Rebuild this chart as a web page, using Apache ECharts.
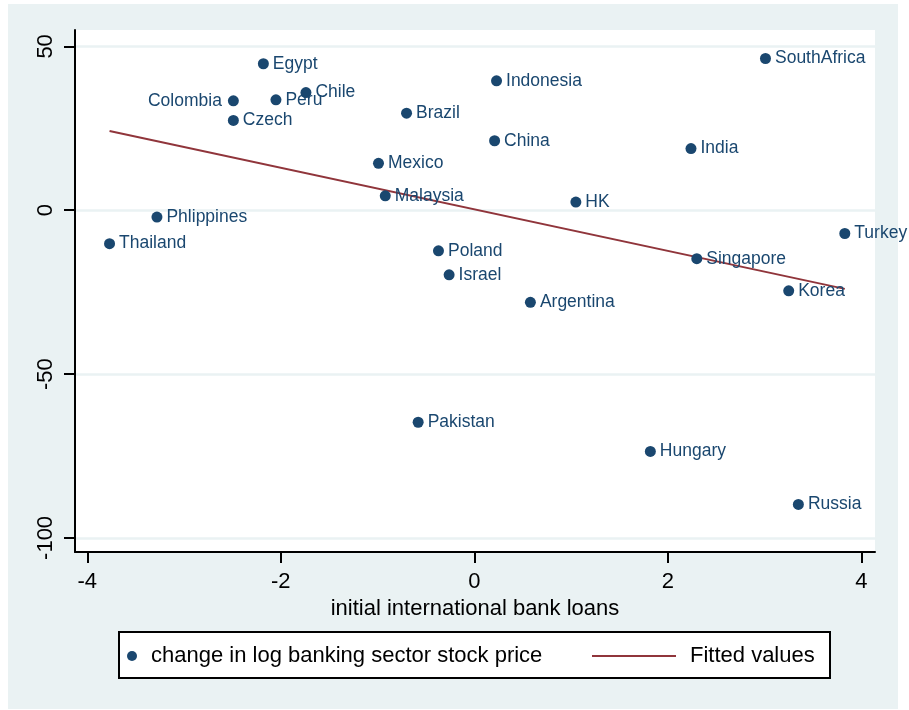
<!DOCTYPE html>
<html>
<head>
<meta charset="utf-8">
<script src="https://cdn.jsdelivr.net/npm/echarts@6/dist/echarts.min.js"></script>
<style>
html,body{margin:0;padding:0;background:#ffffff;width:909px;height:710px;overflow:hidden;}
#chart{position:absolute;left:0;top:0;width:909px;height:710px;}
</style>
</head>
<body>
<div id="chart"></div>
<script>
// ---- data ----
var countries = ['Egypt','Colombia','Peru','Chile','Czech','Indonesia','Brazil','China','Mexico','Malaysia','HK','Phlippines','Thailand','Poland','Israel','Argentina','SouthAfrica','India','Turkey','Singapore','Korea','Pakistan','Hungary','Russia'];
var bankLoans = [-2.18,-2.49,-2.05,-1.74,-2.49,0.23,-0.70,0.21,-0.99,-0.92,1.05,-3.28,-3.77,-0.37,-0.26,0.58,3.01,2.24,3.83,2.30,3.25,-0.58,1.82,3.35];
var stockChange = [44.7,33.4,33.7,35.9,27.4,39.5,29.6,21.2,14.3,4.4,2.5,-2.1,-10.2,-12.4,-19.7,-28.1,46.3,18.8,-7.1,-14.8,-24.6,-64.7,-73.6,-89.8];
var fittedX = [-3.77, 3.83];
var fittedY = [24.2, -24.0];
var xTicks = [-4, -2, 0, 2, 4];
var yTicks = [-100, -50, 0, 50];
var scatterName = 'change in log banking sector stock price';
var fittedName = 'Fitted values';
var leftLabelCountries = ['Colombia'];

// ---- styles ----
var NAVY = '#1a476f';
var MAROON = '#90353b';
var BG = '#eaf2f3';
var FONT = "'Liberation Sans', Arial, Helvetica, sans-serif";

var scatterData = countries.map(function (c, i) {
  var item = { name: c, value: [bankLoans[i], stockChange[i]] };
  if (leftLabelCountries.indexOf(c) >= 0) {
    item.label = { position: 'left', distance: 6 };
  }
  return item;
});
var fittedData = fittedX.map(function (x, i) { return [x, fittedY[i]]; });

var chart = echarts.init(document.getElementById('chart'), null, { renderer: 'canvas' });
chart.setOption({
  backgroundColor: '#ffffff',
  animation: false,
  textStyle: { fontFamily: FONT },
  grid: {
    left: 75, top: 30, width: 800, height: 522,
    show: false,
    containLabel: false
  },
  xAxis: {
    type: 'value',
    min: -4.127, max: 4.142,
    name: 'initial international bank loans',
    nameLocation: 'middle',
    nameGap: 42,
    nameTextStyle: { color: '#000', fontSize: 22, fontFamily: FONT },
    axisLine: { show: true, onZero: false, lineStyle: { color: '#000', width: 2 } },
    axisTick: { show: true, inside: false, length: 11, lineStyle: { color: '#000', width: 2 }, customValues: xTicks },
    axisLabel: { color: '#000', fontSize: 22, margin: 19, fontFamily: FONT, customValues: xTicks, formatter: function (v) { return String(v); } },
    splitLine: { show: false }
  },
  yAxis: {
    type: 'value',
    min: -104.3, max: 55,
    axisLine: { show: true, onZero: false, lineStyle: { color: '#000', width: 2 } },
    axisTick: { show: true, inside: false, length: 11, lineStyle: { color: '#000', width: 2 }, customValues: yTicks },
    axisLabel: { color: '#000', fontSize: 22, margin: 18, rotate: 90, fontFamily: FONT, customValues: yTicks, formatter: function (v) { return String(v); } },
    splitLine: { show: true, lineStyle: { color: BG, width: 2.5 } }
  },
  graphic: [{
    type: 'rect',
    shape: { x: 8, y: 4, width: 890, height: 705 },
    style: { fill: BG },
    z: -10
  }, {
    type: 'rect',
    shape: { x: 75, y: 30, width: 800, height: 522 },
    style: { fill: '#ffffff' },
    z: -9
  }, {
    type: 'rect',
    shape: { x: 119, y: 632, width: 711, height: 46 },
    style: { fill: '#ffffff', stroke: '#000000', lineWidth: 2 },
    z: 1
  }],
  legend: [{
    data: [{ name: scatterName, icon: 'circle' }],
    left: 127, top: 645,
    padding: 0,
    itemWidth: 10, itemHeight: 10,
    textStyle: { color: '#000', fontSize: 22, fontFamily: FONT, padding: [0, 0, 0, 9] }
  }, {
    data: [{ name: fittedName, icon: 'rect', itemStyle: { color: MAROON } }],
    left: 592, top: 645,
    padding: 0,
    itemWidth: 84, itemHeight: 2,
    textStyle: { color: '#000', fontSize: 22, fontFamily: FONT, padding: [0, 0, 0, 9] }
  }],
  series: [{
    name: scatterName,
    type: 'scatter',
    symbol: 'circle',
    symbolSize: 11,
    itemStyle: { color: NAVY, opacity: 1 },
    label: {
      show: true,
      position: 'right',
      distance: 4,
      offset: [0, 1],
      formatter: '{b}',
      color: NAVY,
      fontSize: 17.5,
      fontFamily: FONT
    },
    labelLayout: { hideOverlap: false },
    data: scatterData,
    z: 3
  }, {
    name: fittedName,
    type: 'line',
    symbol: 'none',
    showSymbol: false,
    lineStyle: { color: MAROON, width: 2 },
    itemStyle: { color: MAROON },
    data: fittedData,
    z: 3
  }]
});
</script>
</body>
</html>
